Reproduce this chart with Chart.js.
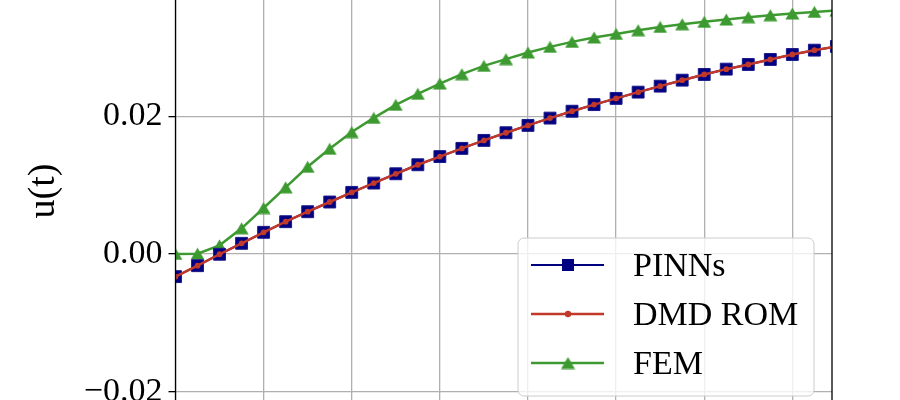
<!DOCTYPE html>
<html>
<head>
<meta charset="utf-8">
<script src="https://cdn.jsdelivr.net/npm/chart.js@4"></script>
<style>
html, body { margin: 0; padding: 0; background: #fff; overflow: hidden; width: 900px; height: 400px; }
#wrap { position: relative; width: 900px; height: 400px; overflow: hidden; }
#chart { position: absolute; left: 0; top: -50px; }
</style>
</head>
<body>
<div id="wrap"><canvas id="chart" width="900" height="480"></canvas></div>
<script>
// =============================
// Data
// =============================

const steps = [0, 1, 2, 3, 4, 5, 6, 7, 8, 9, 10, 11, 12, 13, 14, 15,
    16, 17, 18, 19, 20, 21, 22, 23, 24, 25, 26, 27, 28, 29, 30];

const pinns = [-0.00329, -0.00170, -0.00004, 0.00155, 0.00315, 0.00469, 0.00614, 0.00755,
    0.00895, 0.01030, 0.01165, 0.01296, 0.01415, 0.01534, 0.01650, 0.01761,
    0.01868, 0.01974, 0.02074, 0.02170, 0.02260, 0.02351, 0.02438, 0.02525,
    0.02608, 0.02685, 0.02753, 0.02826, 0.02898, 0.02961, 0.03015];

const dmdRom = [-0.00329, -0.00170, -0.00004, 0.00155, 0.00315, 0.00469, 0.00614, 0.00755,
    0.00895, 0.01030, 0.01165, 0.01296, 0.01415, 0.01534, 0.01650, 0.01761,
    0.01868, 0.01974, 0.02074, 0.02170, 0.02260, 0.02351, 0.02438, 0.02525,
    0.02608, 0.02685, 0.02753, 0.02826, 0.02898, 0.02961, 0.03015];

const fem = [0.00000, 0.00004, 0.00126, 0.00373, 0.00668, 0.00968, 0.01267, 0.01528,
    0.01771, 0.01978, 0.02167, 0.02327, 0.02476, 0.02612, 0.02733, 0.02830,
    0.02927, 0.03009, 0.03081, 0.03145, 0.03197, 0.03251, 0.03299, 0.03338,
    0.03372, 0.03406, 0.03440, 0.03469, 0.03493, 0.03517, 0.03538];

const seriesLabels = ['PINNs', 'DMD ROM', 'FEM'];

const NAVY = '#000080';
const RED = '#c0392b';
const GREEN = '#3d9a30';
const SERIF = "'Liberation Serif', 'DejaVu Serif', serif";

// matplotlib-style '^' marker: centred on its bounding box
function triangleMarker(color) {
    const c = document.createElement('canvas');
    c.width = 15;
    c.height = 13;
    const g = c.getContext('2d');
    g.fillStyle = color;
    g.beginPath();
    g.moveTo(7.5, 0.5);
    g.lineTo(14.5, 12.5);
    g.lineTo(0.5, 12.5);
    g.closePath();
    g.fill();
    return c;
}
const femMarker = triangleMarker(GREEN);

function toPoints(values) {
    return values.map((v, i) => ({ x: steps[i], y: v }));
}

// =============================
// Frame + legend plugin
// =============================

const frameAndLegend = {
    id: 'frameAndLegend',
    afterDraw(chart) {
        const ctx = chart.ctx;
        const area = chart.chartArea;
        ctx.save();

        ctx.strokeStyle = '#000';
        ctx.lineWidth = 1.3;
        ctx.strokeRect(area.left, area.top, area.right - area.left, area.bottom - area.top);

        const w = 296, h = 158;
        const x = area.right - 18 - w;
        const y = area.bottom - 17 - h;
        ctx.beginPath();
        ctx.roundRect(x, y, w, h, 6);
        ctx.fillStyle = 'rgba(255,255,255,0.8)';
        ctx.fill();
        ctx.strokeStyle = '#cccccc';
        ctx.lineWidth = 1;
        ctx.stroke();

        ctx.font = '34px ' + SERIF;
        ctx.textAlign = 'left';
        ctx.textBaseline = 'alphabetic';

        chart.data.datasets.forEach((ds, i) => {
            const ry = y + 27 + i * 49;
            ctx.strokeStyle = ds.borderColor;
            ctx.lineWidth = ds.borderWidth;
            ctx.beginPath();
            ctx.moveTo(x + 13, ry);
            ctx.lineTo(x + 86, ry);
            ctx.stroke();

            const mx = x + 50;
            if (ds.pointStyle === 'rect') {
                ctx.fillStyle = ds.pointBackgroundColor;
                ctx.fillRect(mx - 6, ry - 6, 12, 12);
            } else if (ds.pointStyle === 'circle') {
                ctx.fillStyle = ds.pointBackgroundColor;
                ctx.beginPath();
                ctx.arc(mx, ry, 3.2, 0, Math.PI * 2);
                ctx.fill();
            } else {
                const img = ds.pointStyle;
                ctx.drawImage(img, mx - img.width / 2, ry - img.height / 2);
            }

            ctx.fillStyle = '#000';
            ctx.fillText(ds.label, x + 115, ry + 11);
        });
        ctx.restore();
    }
};

// =============================
// Chart
// =============================

function minusSign(v) {
    return v.toFixed(2).replace('-', '\u2212');
}

const chart = new Chart(document.getElementById('chart'), {
    type: 'line',
    data: {
        datasets: [
            {
                label: seriesLabels[0],
                data: toPoints(pinns),
                borderColor: NAVY,
                borderWidth: 2,
                pointStyle: 'rect',
                pointRadius: 8.4,
                pointBackgroundColor: NAVY,
                pointBorderColor: '#1a1a8c',
                pointBorderWidth: 1,
                order: 1
            },
            {
                label: seriesLabels[1],
                data: toPoints(dmdRom),
                borderColor: RED,
                borderWidth: 2.5,
                pointStyle: 'circle',
                pointRadius: 2.9,
                pointBackgroundColor: RED,
                pointBorderColor: RED,
                pointBorderWidth: 0,
                order: 0
            },
            {
                label: seriesLabels[2],
                data: toPoints(fem),
                borderColor: GREEN,
                borderWidth: 2.5,
                pointStyle: femMarker,
                pointRadius: 7,
                pointBackgroundColor: GREEN,
                order: 2
            }
        ]
    },
    options: {
        responsive: false,
        animation: false,
        events: [],
        layout: {
            padding: { top: 19, right: 68, left: 0, bottom: 0 }
        },
        elements: {
            line: { tension: 0 }
        },
        plugins: {
            legend: { display: false },
            tooltip: { enabled: false }
        },
        scales: {
            x: {
                type: 'linear',
                min: 0,
                max: 29.8,
                border: { display: false },
                grid: { color: '#b0b0b0', lineWidth: 1.3, drawTicks: false },
                ticks: { display: false, stepSize: 4, includeBounds: false },
                afterFit(scale) {
                    scale.height = 17;
                    scale.paddingLeft = 0;
                    scale.paddingRight = 0;
                }
            },
            y: {
                type: 'linear',
                min: -0.0231,
                max: 0.0414,
                border: { display: false },
                grid: { color: '#b0b0b0', lineWidth: 1.3, tickColor: '#000', tickLength: 7 },
                ticks: {
                    stepSize: 0.02,
                    includeBounds: false,
                    padding: 6,
                    color: '#000',
                    font: { family: SERIF, size: 34 },
                    callback: (v) => minusSign(v)
                },
                title: {
                    display: true,
                    text: 'u(t)',
                    color: '#000',
                    font: { family: SERIF, size: 38 },
                    padding: { top: 21, bottom: 0 }
                },
                afterFit(scale) {
                    scale.width = 175.5;
                    scale.paddingTop = 0;
                    scale.paddingBottom = 0;
                }
            }
        }
    },
    plugins: [frameAndLegend]
});
</script>
</body>
</html>
